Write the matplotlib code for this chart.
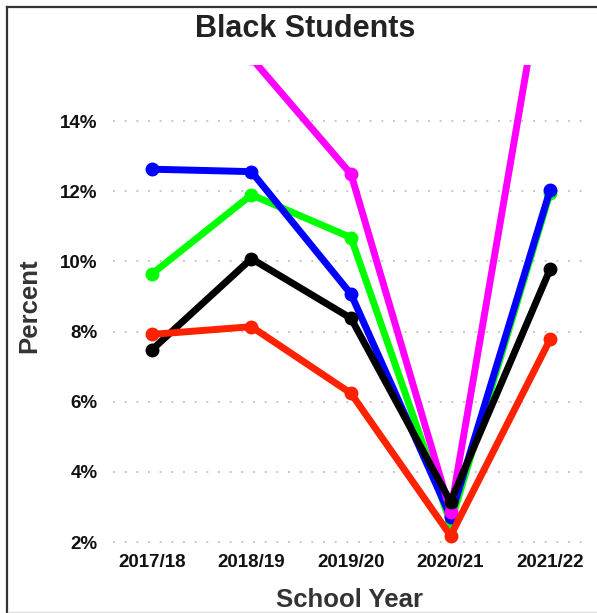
import matplotlib
matplotlib.use("Agg")
import matplotlib.pyplot as plt
from matplotlib.lines import Line2D
from matplotlib.ticker import FuncFormatter

years = ["2017/18", "2018/19", "2019/20", "2020/21", "2021/22"]
black = [7.48, 10.08, 8.38, 3.15, 9.78]
red = [7.92, 8.14, 6.24, 2.18, 7.78]
green = [9.64, 11.9, 10.68, 2.53, 11.96]
blue = [12.63, 12.56, 9.07, 2.72, 12.04]
magenta = [17.5, 15.8, 12.49, 2.86, 19.4]
yticks = [2, 4, 6, 8, 10, 12, 14]

plt.rcParams["font.family"] = ["Liberation Sans", "DejaVu Sans"]

W, H = 597, 613
fig = plt.figure(figsize=(W / 100, H / 100), dpi=100)
ax = fig.add_axes([113 / W, 1 - 547 / H, (585 - 113) / W, (547 - 65) / H])

x = list(range(len(years)))
series = [
    (green, "#00ff00"),
    (blue, "#0000ff"),
    (magenta, "#ff00ff"),
    (black, "#000000"),
    (red, "#ff2200"),
]
for i, (vals, col) in enumerate(series):
    ax.plot(x, vals, color=col, lw=5, marker="o", ms=9,
            solid_capstyle="butt", solid_joinstyle="round", zorder=3 + i)

ax.set_xlim(-0.39, 4.35)
ax.set_ylim(1.86, 15.6)
ax.set_xticks(x)
ax.set_xticklabels(years)
ax.set_yticks(yticks)
ax.yaxis.set_major_formatter(FuncFormatter(lambda v, p: f"{v:.0f}%"))
ax.grid(axis="y", color="#c8c8c8", linestyle=(0, (1, 5)), linewidth=1.4)
ax.grid(axis="x", visible=False)
for s in ax.spines.values():
    s.set_visible(False)
ax.tick_params(axis="both", length=0, labelsize=13.5, labelcolor="#111111")
ax.tick_params(axis="y", pad=11)
ax.tick_params(axis="x", pad=5)
for lab in ax.get_xticklabels() + ax.get_yticklabels():
    lab.set_fontweight("bold")
ax.set_xlabel("School Year", fontsize=18.5, fontweight="bold", color="#333333", labelpad=12)
ax.set_ylabel("Percent", fontsize=18.5, fontweight="bold", color="#333333", labelpad=14)

fig.text(305 / W, 1 - 29 / H, "Black Students", fontsize=22, fontweight="bold",
         color="#222222", ha="center", va="center")

# frame
fig.add_artist(Line2D([7 / W, 7 / W], [0, 1 - 7 / H], transform=fig.transFigure,
                      color="#333333", lw=1.6))
fig.add_artist(Line2D([7 / W, 1], [1 - 7 / H, 1 - 7 / H], transform=fig.transFigure,
                      color="#333333", lw=1.6))
fig.add_artist(Line2D([8 / W, 1], [1 - 611.5 / H, 1 - 611.5 / H], transform=fig.transFigure,
                      color="#dddddd", lw=1.0))

fig.savefig("out.png", dpi=100)
